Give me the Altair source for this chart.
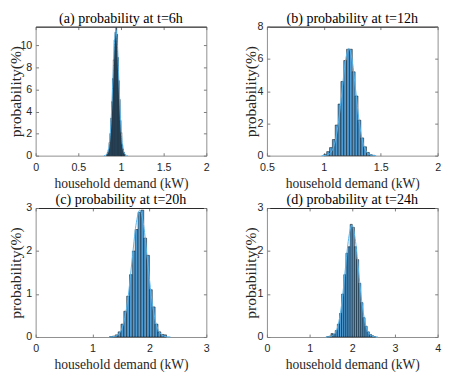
import altair as alt
import pandas as pd

# ---------------- data ----------------
# (a) t=6h : histogram bins
a_start, a_width = 0.83, 0.01
a_heights = [0.12, 0.3, 0.55, 1.2, 2.0, 3.4, 4.9, 7.0, 8.7, 10.5, 11.2,
             11.6, 11.0, 8.9, 6.8, 5.1, 3.2, 2.1, 1.0, 0.6, 0.3, 0.1]
a_curve_x = [0.80, 0.8175, 0.835, 0.8525, 0.87, 0.8875, 0.905, 0.9225, 0.94,
             0.9575, 0.975, 0.9925, 1.01, 1.0275, 1.045, 1.0625, 1.08]
a_curve_y = [0.0, 0.03, 0.13, 0.5, 1.54, 3.7, 6.9, 10.1, 11.4,
             10.1, 6.9, 3.7, 1.54, 0.5, 0.13, 0.03, 0.0]

# (b) t=12h
b_start, b_width = 1.0, 0.025
b_heights = [0.08, 0.25, 0.5, 1.0, 1.9, 3.2, 4.6, 5.9, 6.6, 6.6, 5.2, 3.7,
             2.2, 1.1, 0.55, 0.2, 0.06, 0.02]
b_curve_x = [0.98, 1.01, 1.04, 1.07, 1.10, 1.13, 1.16, 1.19, 1.22,
             1.25, 1.28, 1.31, 1.34, 1.37, 1.40, 1.43, 1.46]
b_curve_y = [0.0, 0.015, 0.07, 0.29, 0.9, 2.16, 4.03, 5.87, 6.65,
             5.87, 4.03, 2.16, 0.9, 0.29, 0.07, 0.015, 0.0]

# (c) t=20h
c_start, c_width = 1.30, 0.05
c_heights = [0.01, 0.02, 0.05, 0.12, 0.3, 0.6, 0.95, 1.45, 2.0, 2.5, 2.9,
             2.95, 2.3, 1.9, 1.1, 0.7, 0.3, 0.12, 0.06, 0.05]
c_curve_x = [1.29, 1.358, 1.425, 1.493, 1.56, 1.628, 1.695, 1.763, 1.83,
             1.898, 1.965, 2.033, 2.10, 2.168, 2.235, 2.303, 2.37]
c_curve_y = [0.001, 0.006, 0.033, 0.13, 0.4, 0.96, 1.79, 2.6, 2.95,
             2.6, 1.79, 0.96, 0.4, 0.13, 0.033, 0.006, 0.001]

# (d) t=24h
d_start, d_width = 1.40, 0.05
d_heights = [0.01, 0.02, 0.08, 0.07, 0.15, 0.3, 0.55, 1.0, 1.45, 1.95, 2.1,
             2.62, 2.55, 2.1, 1.8, 1.25, 0.8, 0.45, 0.25, 0.12, 0.06, 0.03, 0.01]
d_curve_x = [1.378, 1.455, 1.531, 1.608, 1.684, 1.761, 1.837, 1.914, 1.99,
             2.067, 2.143, 2.22, 2.296, 2.373, 2.449, 2.526, 2.602]
d_curve_y = [0.001, 0.006, 0.029, 0.11, 0.35, 0.84, 1.58, 2.29, 2.6,
             2.29, 1.58, 0.84, 0.35, 0.11, 0.029, 0.006, 0.001]

titles = ["(a) probability at t=6h", "(b) probability at t=12h",
          "(c) probability at t=20h", "(d) probability at t=24h"]
x_domains = [[0, 2], [0.5, 2], [0, 3], [0, 4]]
x_ticks = [[0, 0.5, 1, 1.5, 2], [0.5, 1, 1.5, 2], [0, 1, 2, 3], [0, 1, 2, 3, 4]]
y_max = [11.7, 8, 3, 3]
y_ticks = [[0, 2, 4, 6, 8, 10], [0, 2, 4, 6, 8], [0, 1, 2, 3], [0, 1, 2, 3]]

X_TITLE = "household demand (kW)"
Y_TITLE = "probability(%)"

W, H = 176, 133
BAR_FILL = "#4f9bd4"
CURVE = "#56b4ea"
TICK = "#7a7a7a"
LABEL_EXPR = "'' + datum.value"


def panel(i, start, width, heights, cx, cy, ytitle_x, title_offset):
    n = len(heights)
    lo = [round(start + k * width, 4) for k in range(n)]
    bars = pd.DataFrame({"lo": lo, "hi": [v + width for v in lo],
                         "h": heights, "base": [0] * n})
    curve = pd.DataFrame({"x": cx, "y": cy})
    xs = alt.Scale(domain=x_domains[i], nice=False, zero=False)
    ys = alt.Scale(domain=[0, y_max[i]], nice=False)

    main_x = alt.Axis(values=x_ticks[i], labelExpr=LABEL_EXPR, title=X_TITLE, tickSize=0,
                      labelPadding=6, domain=False, grid=False, titleY=28.5,
                      titleBaseline="middle", labelFlush=False, titleFontSize=14)
    main_y = alt.Axis(values=y_ticks[i], labelExpr=LABEL_EXPR, title=Y_TITLE, tickSize=0,
                      labelPadding=4, domain=False, grid=False, titleX=ytitle_x,
                      titleY=H / 2, titleBaseline="middle", titleAlign="center",
                      titleAngle=270, titleFontSize=16)
    tick_kw = dict(labels=False, title=None, domain=False, tickSize=3,
                   tickColor=TICK, grid=False, minExtent=0)

    b = alt.Chart(bars).mark_rect(fill=BAR_FILL, stroke="black", strokeWidth=0.5).encode(
        x=alt.X("lo:Q", scale=xs, axis=main_x), x2="hi",
        y=alt.Y("h:Q", scale=ys, axis=main_y), y2="base")
    ln = alt.Chart(curve).mark_line(color=CURVE, strokeWidth=1, interpolate="monotone").encode(
        x=alt.X("x:Q", scale=xs, axis=alt.Axis(orient="bottom", offset=-3, values=x_ticks[i], **tick_kw)),
        y=alt.Y("y:Q", scale=ys, axis=alt.Axis(orient="left", offset=-3, values=y_ticks[i], **tick_kw)))
    tr = alt.Chart(curve).mark_line(strokeOpacity=0).encode(
        x=alt.X("x:Q", scale=xs, axis=alt.Axis(orient="top", offset=-3, values=x_ticks[i], **tick_kw)),
        y=alt.Y("y:Q", scale=ys, axis=alt.Axis(orient="right", offset=-3, values=y_ticks[i], **tick_kw)))
    top = alt.Chart(curve).mark_line(strokeOpacity=0).encode(
        x=alt.X("x:Q", scale=xs, axis=alt.Axis(orient="top", offset=0, labels=False, ticks=False,
                                               domain=True, domainColor="#262626", title=None,
                                               grid=False, minExtent=0)),
        y=alt.Y("y:Q", scale=ys, axis=None))
    return alt.layer(b, ln, tr, top).resolve_axis(x="independent", y="independent").properties(
        width=W, height=H, title=alt.TitleParams(titles[i], offset=title_offset))


pa = panel(0, a_start, a_width, a_heights, a_curve_x, a_curve_y, -20.5, 0)
pb = panel(1, b_start, b_width, b_heights, b_curve_x, b_curve_y, -17, -5.5)
pc = panel(2, c_start, c_width, c_heights, c_curve_x, c_curve_y, -20.5, -5.5)
pd_ = panel(3, d_start, d_width, d_heights, d_curve_x, d_curve_y, -17, -5.5)

chart = alt.vconcat(
    alt.hconcat(pa, pb, spacing=32.5),
    alt.hconcat(pc, pd_, spacing=32.5),
    spacing=1,
).properties(padding={"left": -1.5, "top": -3.5, "right": 0, "bottom": 0}).configure_view(
    stroke="#8c8c8c", strokeWidth=1
).configure_title(
    font="Liberation Serif", fontSize=14.5, fontWeight="normal", color="black"
).configure_axis(
    labelFont="Liberation Sans", labelFontSize=11, labelColor="#262626",
    titleFont="Liberation Serif", titleFontWeight="normal",
    titleColor="#262626"
)

chart.save("out.html", embed_options={"renderer": "svg", "actions": False})
